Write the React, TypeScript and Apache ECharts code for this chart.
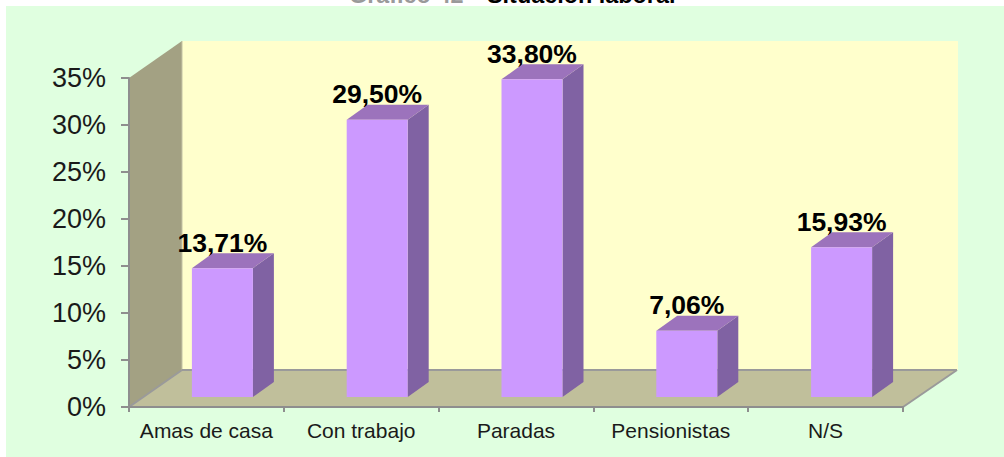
import React, { useEffect, useRef } from "react";
import * as echarts from "echarts";

const categories = ["Amas de casa", "Con trabajo", "Paradas", "Pensionistas", "N/S"];
const values = [13.71, 29.5, 33.8, 7.06, 15.93];
const valueLabels = ["13,71%", "29,50%", "33,80%", "7,06%", "15,93%"];
const titleGrey = "Gráfico 42 -";
const titleBlack = "Situación laboral";

const FONT = '"Liberation Sans", Arial, sans-serif';
const WALL_DX = 53;
const WALL_DY = -37;
const BAR_DX = 21;
const BAR_DY = -15;
const BAR_W = 61;
const BAR_SHIFT_X = 16;
const BAR_SHIFT_Y = -10;

export default function App() {
  const ref = useRef<HTMLDivElement>(null);
  useEffect(() => {
    document.body.style.margin = "0";
    const chart = echarts.init(ref.current!, undefined, { renderer: "svg" });
    chart.setOption({
      animation: false,
      backgroundColor: "#ffffff",
      grid: { left: 129, top: 78, width: 774, height: 329, containLabel: false },
      graphic: [
        { type: "rect", z: -10, shape: { x: 6, y: 6, width: 998, height: 451 }, style: { fill: "#E0FFE0" } },
        { type: "text", x: 349, y: -17, style: { text: titleGrey, font: `bold 23.4px ${FONT}`, fill: "#9a9a9a" } },
        { type: "text", x: 487, y: -17, style: { text: titleBlack, font: `bold 23.4px ${FONT}`, fill: "#000000" } },
      ],
      xAxis: {
        type: "category",
        data: categories,
        z: 5,
        axisLine: { show: true, lineStyle: { color: "#8E8E8E", width: 2 } },
        axisTick: { show: true, alignWithLabel: false, length: 5, lineStyle: { color: "#8E8E8E", width: 2 } },
        axisLabel: { color: "#1a1a1a", fontFamily: FONT, fontSize: 21, margin: 13, interval: 0 },
        splitLine: { show: false },
      },
      yAxis: {
        type: "value",
        min: 0,
        max: 35,
        interval: 5,
        z: 5,
        axisLine: { show: true, lineStyle: { color: "#8E8E8E", width: 2 } },
        axisTick: { show: true, length: 8, lineStyle: { color: "#8E8E8E", width: 2 } },
        axisLabel: { color: "#1a1a1a", fontFamily: FONT, fontSize: 27, margin: 23, formatter: "{value}%" },
        splitLine: { show: false },
      },
      series: [
        {
          type: "custom",
          coordinateSystem: "cartesian2d",
          z: 1,
          silent: true,
          data: [[0, 0]],
          renderItem: (params: any) => {
            const r = params.coordSys;
            const L = r.x, R = r.x + r.width, T = r.y, B = r.y + r.height;
            const edge = { stroke: "#9A9A9A", lineWidth: 2 };
            return {
              type: "group",
              children: [
                { type: "rect", shape: { x: L + WALL_DX, y: T + WALL_DY, width: r.width + 2, height: r.height }, style: { fill: "#FFFFCC" } },
                { type: "polygon", shape: { points: [[L, B], [R, B], [R + WALL_DX + 1, B + WALL_DY], [L + WALL_DX, B + WALL_DY]] }, style: { fill: "#C0BF9B" } },
                { type: "polygon", shape: { points: [[L, T], [L + WALL_DX, T + WALL_DY], [L + WALL_DX, B + WALL_DY], [L, B]] }, style: { fill: "#A3A183" } },
                { type: "line", shape: { x1: L + WALL_DX, y1: T + WALL_DY, x2: L + WALL_DX, y2: B + WALL_DY }, style: { stroke: "#C4C3A4", lineWidth: 1 } },
                { type: "line", shape: { x1: L + WALL_DX, y1: B + WALL_DY, x2: R + WALL_DX + 1, y2: B + WALL_DY }, style: edge },
                { type: "line", shape: { x1: L, y1: B, x2: L + WALL_DX, y2: B + WALL_DY }, style: edge },
                { type: "line", shape: { x1: R, y1: B, x2: R + WALL_DX + 1, y2: B + WALL_DY }, style: edge },
              ],
            };
          },
        },
        {
          type: "custom",
          coordinateSystem: "cartesian2d",
          z: 3,
          silent: true,
          encode: { x: 0, y: 1 },
          data: values.map((v, i) => [i, v]),
          renderItem: (_params: any, api: any) => {
            const i = api.value(0);
            const top = api.coord([i, api.value(1)]);
            const base = api.coord([i, 0]);
            const x0 = top[0] + BAR_SHIFT_X - BAR_W / 2;
            const x1 = x0 + BAR_W;
            const yT = top[1] + BAR_SHIFT_Y;
            const yB = base[1] + BAR_SHIFT_Y;
            return {
              type: "group",
              children: [
                {
                  type: "text",
                  style: {
                    text: valueLabels[i],
                    x: (x0 + x1) / 2,
                    y: yT + BAR_DY + 3,
                    align: "center",
                    verticalAlign: "bottom",
                    font: `bold 26.5px ${FONT}`,
                    fill: "#000000",
                  },
                },
                { type: "polygon", shape: { points: [[x1, yT], [x1 + BAR_DX, yT + BAR_DY], [x1 + BAR_DX, yB + BAR_DY], [x1, yB]] }, style: { fill: "#8062A3" } },
                { type: "polygon", shape: { points: [[x0, yT], [x0 + BAR_DX, yT + BAR_DY], [x1 + BAR_DX, yT + BAR_DY], [x1, yT]] }, style: { fill: "#9C73BC" } },
                { type: "rect", shape: { x: x0, y: yT, width: BAR_W, height: yB - yT }, style: { fill: "#CC99FF" } },
              ],
            };
          },
        },
      ],
    });
    return () => chart.dispose();
  }, []);
  return <div ref={ref} style={{ position: "fixed", left: 0, top: 0, width: 1004, height: 457 }} />;
}
